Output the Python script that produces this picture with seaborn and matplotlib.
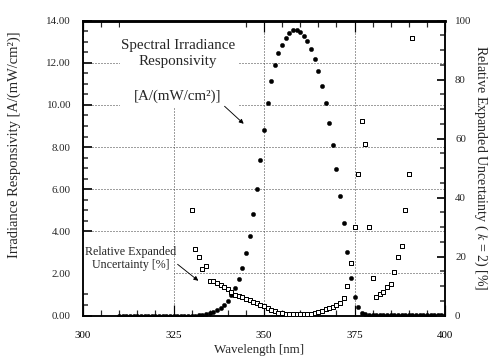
import numpy as np
import pandas as pd
import matplotlib
matplotlib.use("Agg")
import matplotlib.pyplot as plt
from matplotlib.patches import Rectangle
from matplotlib.ticker import MultipleLocator, FormatStrFormatter
import seaborn as sns

# spectral irradiance responsivity [A/(mW/cm2)], 1 nm steps from 310 nm
resp_wl = np.arange(310, 401)
resp_val = [0.00] * 22 + [
    0.02, 0.03, 0.05, 0.10, 0.15, 0.25, 0.36, 0.51, 0.70, 0.99,          # 332-341
    1.32, 1.75, 2.27, 2.98, 3.79, 4.80, 5.99, 7.38, 8.80, 10.10,          # 342-351
    11.13, 11.89, 12.45, 12.84, 13.18, 13.40, 13.56, 13.57, 13.48, 13.29,  # 352-361
    13.02, 12.65, 12.18, 11.60, 10.90, 10.09, 9.13, 8.10, 6.94, 5.69,     # 362-371
    4.38, 3.00, 1.77, 0.89, 0.39, 0.13, 0.05, 0.02,                       # 372-379
] + [0.01] * 21

# relative expanded uncertainty (k=2) [%], 1 nm steps from 330 nm
unc_wl = np.arange(330, 392)
unc_val = [
    35.9, 22.5, 19.7, 15.9, 16.8, 11.8, 11.7, 10.9, 10.2, 9.6,   # 330-339
    8.9, 8.0, 7.0, 6.6, 6.2, 5.7, 5.2, 4.7, 4.1, 3.6,            # 340-349
    3.1, 2.6, 2.0, 1.4, 0.9, 0.7, 0.6, 0.5, 0.5, 0.5,            # 350-359
    0.5, 0.5, 0.5, 0.6, 0.8, 1.3, 1.6, 2.1, 2.6, 3.0,            # 360-369
    3.6, 4.2, 6.1, 10.0, 17.7, 29.9, 47.9, 66.0, 58.1, 29.9,     # 370-379
    12.8, 6.3, 7.4, 8.0, 9.5, 10.8, 14.9, 19.7, 23.7, 35.9,      # 380-389
    47.9, 94.0,                                                  # 390-391
]

resp = pd.DataFrame({"wl": resp_wl, "val": resp_val})
unc = pd.DataFrame({"wl": unc_wl, "val": unc_val})

sns.set_theme(style="ticks")
plt.rcParams["font.family"] = ["Liberation Serif", "DejaVu Serif"]
plt.rcParams["mathtext.fontset"] = "stix"

fig = plt.figure(figsize=(504 / 72, 358 / 72), dpi=72)
ax = fig.add_axes([83 / 504, 1 - 315.5 / 358, (445 - 83) / 504, (315.5 - 20.7) / 358])
ax2 = ax.twinx()

dot = (0, (1, 2))
ax.grid(True, which="major", linestyle=dot, color="0.25", linewidth=1.0)
ax.set_axisbelow(True)

# white panels behind the two annotations (they hide the grid there)
ax.add_patch(Rectangle((0.102, 0.704), 0.326, 0.296, transform=ax.transAxes,
                       facecolor="white", edgecolor="none", zorder=1))
ax.add_patch(Rectangle((0.0, 0.086), 0.25, 0.17, transform=ax.transAxes,
                       facecolor="white", edgecolor="none", zorder=1))

sns.scatterplot(data=resp, x="wl", y="val", ax=ax, marker="o", s=20,
                color="black", edgecolor="black", linewidth=0.3, zorder=4)
sns.scatterplot(data=unc, x="wl", y="val", ax=ax2, marker="s", s=22,
                facecolor="white", edgecolor="black", linewidth=1.0, zorder=4)

ax.set_xlim(300, 400)
ax.set_ylim(0, 14)
ax2.set_ylim(0, 100)

ax.xaxis.set_major_locator(MultipleLocator(25))
ax.xaxis.set_minor_locator(MultipleLocator(5))
ax.yaxis.set_major_locator(MultipleLocator(2))
ax.yaxis.set_minor_locator(MultipleLocator(0.5))
ax.yaxis.set_major_formatter(FormatStrFormatter("%.2f"))
ax2.yaxis.set_major_locator(MultipleLocator(20))
ax2.yaxis.set_minor_locator(MultipleLocator(5))

ax.tick_params(axis="x", which="major", direction="in", length=11, width=1.2,
               top=True, bottom=True, labelsize=11, pad=15, colors="black")
ax.tick_params(axis="x", which="minor", direction="in", length=6, width=1.2,
               top=True, bottom=True)
ax.tick_params(axis="y", which="major", direction="in", length=9, width=2,
               labelsize=11, pad=12)
ax.tick_params(axis="y", which="minor", direction="in", length=5, width=1.5)
ax2.tick_params(axis="y", which="major", direction="in", length=8, width=2,
                labelsize=11, pad=10)
ax2.tick_params(axis="y", which="minor", direction="in", length=5, width=1.5)

for a in (ax, ax2):
    for side in ("left", "right", "bottom"):
        a.spines[side].set_linewidth(1.5)
        a.spines[side].set_color("black")
    a.spines["top"].set_linewidth(2.5)
    a.spines["top"].set_color("black")

ax.set_xlabel("Wavelength [nm]", fontsize=13)
ax.xaxis.set_label_coords(0.487, -0.095)
ax.set_ylabel("Irradiance Responsivity [A/(mW/cm²)]", fontsize=14.5)
ax.yaxis.set_label_coords(-0.172, 0.58)
ax2.set_ylabel("Relative Expanded Uncertainty ( $k$ = 2) [%]", fontsize=14,
               rotation=270, labelpad=18)

ax.text(326.2, 12.45, "Spectral Irradiance\nResponsivity", ha="center", va="center",
        fontsize=15, linespacing=1.35, zorder=3)
ax.text(326.1, 10.4, "[A/(mW/cm²)]", ha="center", va="center", fontsize=15, zorder=3)
ax.annotate("", xy=(344.8, 9.04), xytext=(338.7, 10.0),
            arrowprops=dict(arrowstyle="-|>", color="black", lw=0.9,
                            mutation_scale=9), zorder=5)
ax.text(313.2, 2.72, "Relative Expanded\nUncertainty [%]", ha="center", va="center",
        fontsize=12, linespacing=1.1, zorder=3)
ax.annotate("", xy=(332.3, 1.59), xytext=(325.7, 2.49),
            arrowprops=dict(arrowstyle="-|>", color="black", lw=0.9,
                            mutation_scale=9), zorder=5)

fig.savefig("out.png", dpi=72, facecolor="white")
